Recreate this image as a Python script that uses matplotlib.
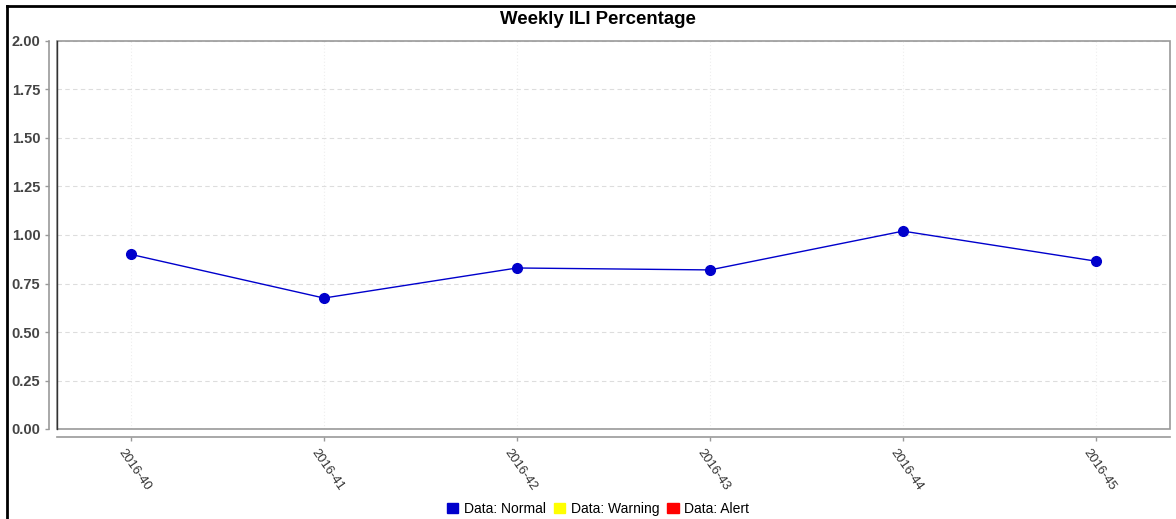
import matplotlib
matplotlib.use("Agg")
import matplotlib.pyplot as plt
from matplotlib.lines import Line2D
from matplotlib.patches import Rectangle
from matplotlib.transforms import ScaledTranslation

weeks = ["2016-40", "2016-41", "2016-42", "2016-43", "2016-44", "2016-45"]
ili_pct = [0.90, 0.675, 0.83, 0.82, 1.02, 0.865]
yticks = [0.00, 0.25, 0.50, 0.75, 1.00, 1.25, 1.50, 1.75, 2.00]
legend_labels = ["Data: Normal", "Data: Warning", "Data: Alert"]
legend_colors = ["#0000CC", "#FFFF00", "#FF0000"]

plt.rcParams['font.family'] = ['Liberation Sans', 'DejaVu Sans']

W, H = 1176, 519
fig = plt.figure(figsize=(W / 100, H / 100), dpi=100)
L, R, T, B = 57, 1170, 41, 429
ax = fig.add_axes([L / W, 1 - B / H, (R - L) / W, (B - T) / H])

x = list(range(len(weeks)))
ax.plot(x, ili_pct, color="#0000CC", lw=1.0, marker="o", markersize=7,
        markerfacecolor="#0000CC", markeredgecolor="#0000CC", zorder=3)

ax.set_ylim(0, 2.0)
ax.set_xlim(-0.383, len(weeks) - 1 + 0.383)

ax.grid(axis="y", color="#DDDDDD", linestyle=(0, (4, 3)), lw=0.8)
ax.grid(axis="x", color="#EEEEEE", linestyle=(0, (1, 2)), lw=0.8)
ax.set_axisbelow(True)

for s in ["top", "right"]:
    ax.spines[s].set_visible(False)
for s in ["left", "bottom"]:
    ax.spines[s].set_position(("outward", 6))
    ax.spines[s].set_color("#999999")
    ax.spines[s].set_linewidth(1.2)
ax.tick_params(axis="both", color="#999999", length=3, width=1)
ax.tick_params(axis="x", pad=4)
ax.tick_params(axis="y", pad=3)

ax.set_yticks(yticks)
ax.set_yticklabels([f"{v:.2f}" for v in yticks])
ax.set_xticks(x)
ax.set_xticklabels(weeks)
plt.setp(ax.get_yticklabels(), fontsize=10.5, fontweight="bold", color="#444444")
plt.setp(ax.get_xticklabels(), fontsize=9.3, color="#333333", rotation=-55,
         ha="left", va="top", rotation_mode="anchor")
off = ScaledTranslation(-5 / 100, 0, fig.dpi_scale_trans)
for lbl in ax.get_xticklabels():
    lbl.set_transform(lbl.get_transform() + off)

# plot area border
ax.add_patch(Rectangle((0, 0), 1, 1, transform=ax.transAxes, fill=False,
                       edgecolor="#999999", lw=1.2, clip_on=False, zorder=4))
ax.plot([0, 0], [0, 1], transform=ax.transAxes, color="#333333", lw=1.0, clip_on=False, zorder=5)

fig.text(598 / W, 1 - 19 / H, "Weekly ILI Percentage", ha="center", va="center",
         fontsize=13.4, fontweight="bold")

# outer frame
fig.add_artist(Line2D([7 / W, 1], [1 - 6 / H, 1 - 6 / H], color="black", lw=2, transform=fig.transFigure))
fig.add_artist(Line2D([7 / W, 7 / W], [0, 1 - 6 / H], color="black", lw=2, transform=fig.transFigure))

handles = [Rectangle((0, 0), 1, 1, facecolor=c, edgecolor=c) for c in legend_colors]
fig.legend(handles, legend_labels, loc="center", bbox_to_anchor=(598 / W, 1 - 509 / H),
           ncol=3, frameon=False, fontsize=10, handlelength=0.8, handleheight=0.8,
           handletextpad=0.4, columnspacing=0.6, borderaxespad=0)

fig.savefig("out.png", dpi=100)
